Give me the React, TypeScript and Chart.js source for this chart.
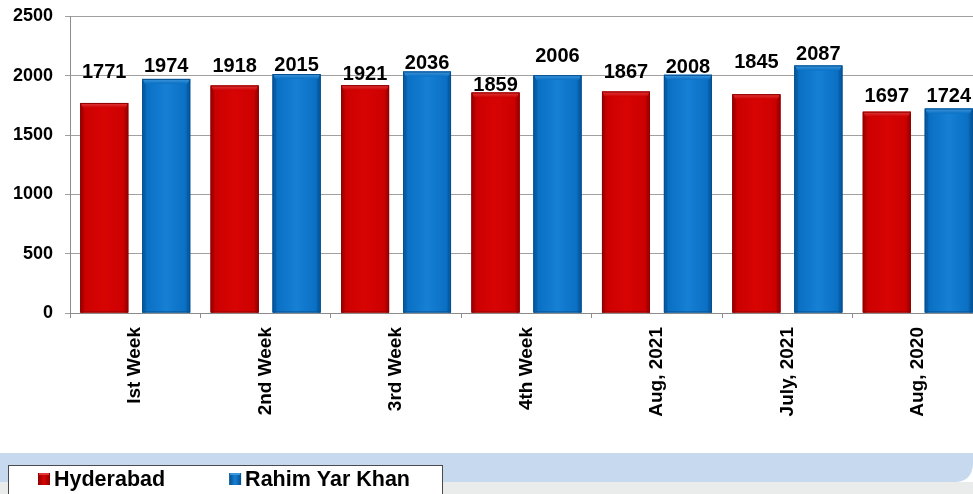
import React, { useEffect, useRef } from 'react';
import { Chart, registerables } from 'chart.js';

Chart.register(...registerables);

// ---- data ----
const categories = ['Ist Week', '2nd Week', '3rd Week', '4th Week', 'Aug, 2021', 'July, 2021', 'Aug, 2020'];
const hyderabad = [1771, 1918, 1921, 1859, 1867, 1845, 1697];
const rahimYarKhan = [1974, 2015, 2036, 2006, 2008, 2087, 1724];
const yTicks = [0, 500, 1000, 1500, 2000, 2500];
const seriesNames = ['Hyderabad', 'Rahim Yar Khan'];

// label lift above each bar (px), as placed in the original
const hyderabadLabelGap = [25, 14, 5, 2, 14, 26, 10];
const rahimLabelGap = [7, 3, 3, 13, 2, 5, 7];

const FONT = '"Liberation Sans", Arial, Helvetica, sans-serif';

const palettes = [
  { main: '#cc0000', light: '#d80404', edge: '#8e0000', top: '#e23a3a', side: '#a80000' },
  { main: '#0a70c4', light: '#1680d4', edge: '#064f8e', top: '#3f98dc', side: '#085ca6' },
];
const labelGaps = [hyderabadLabelGap, rahimLabelGap];

const barStylePlugin = {
  id: 'barStyle',
  afterDatasetsDraw(chart: any) {
    const ctx = chart.ctx as CanvasRenderingContext2D;
    ctx.save();
    chart.data.datasets.forEach((_ds: any, di: number) => {
      const meta = chart.getDatasetMeta(di);
      const pal = palettes[di];
      meta.data.forEach((el: any) => {
        const { x, y, width, base } = el.getProps(['x', 'y', 'width', 'base'], true);
        const l = x - width / 2;
        const r = x + width / 2;
        const t = y;
        const b = base;
        const g = ctx.createLinearGradient(l, 0, r, 0);
        g.addColorStop(0, pal.edge);
        g.addColorStop(0.1, pal.main);
        g.addColorStop(0.5, pal.light);
        g.addColorStop(0.9, pal.main);
        g.addColorStop(1, pal.edge);
        ctx.fillStyle = g;
        ctx.fillRect(l, t, width, b - t);
        const bv = 5;
        ctx.fillStyle = pal.side;
        ctx.beginPath();
        ctx.moveTo(l, t);
        ctx.lineTo(l + 3, t + bv);
        ctx.lineTo(l + 3, b);
        ctx.lineTo(l, b);
        ctx.closePath();
        ctx.fill();
        ctx.beginPath();
        ctx.moveTo(r, t);
        ctx.lineTo(r - 3, t + bv);
        ctx.lineTo(r - 3, b);
        ctx.lineTo(r, b);
        ctx.closePath();
        ctx.fill();
        const tg = ctx.createLinearGradient(0, t, 0, t + bv);
        tg.addColorStop(0, pal.top);
        tg.addColorStop(1, pal.main);
        ctx.fillStyle = tg;
        ctx.beginPath();
        ctx.moveTo(l, t);
        ctx.lineTo(r, t);
        ctx.lineTo(r - 3, t + bv);
        ctx.lineTo(l + 3, t + bv);
        ctx.closePath();
        ctx.fill();
        ctx.strokeStyle = pal.edge;
        ctx.lineWidth = 1;
        ctx.strokeRect(l + 0.5, t + 0.5, width - 1, b - t - 1);
      });
    });
    ctx.restore();
  },
};

const dataLabelPlugin = {
  id: 'dataLabels',
  afterDatasetsDraw(chart: any) {
    const ctx = chart.ctx as CanvasRenderingContext2D;
    ctx.save();
    ctx.font = `bold 20px ${FONT}`;
    ctx.fillStyle = '#000';
    ctx.textAlign = 'center';
    ctx.textBaseline = 'alphabetic';
    chart.data.datasets.forEach((ds: any, di: number) => {
      const meta = chart.getDatasetMeta(di);
      meta.data.forEach((el: any, i: number) => {
        const { x, y } = el.getProps(['x', 'y'], true);
        ctx.fillText(String(ds.data[i]), x, y - labelGaps[di][i]);
      });
    });
    ctx.restore();
  },
};

const legendPlugin = {
  id: 'customLegend',
  afterDraw(chart: any) {
    const ctx = chart.ctx as CanvasRenderingContext2D;
    const W = chart.width;
    ctx.save();
    ctx.fillStyle = '#eaecec';
    ctx.fillRect(0, 482, W, 20);
    ctx.fillStyle = '#c6d9ef';
    ctx.beginPath();
    ctx.moveTo(0, 453);
    ctx.lineTo(973, 453);
    ctx.lineTo(973, 464);
    ctx.quadraticCurveTo(972, 482, 954, 482);
    ctx.lineTo(0, 482);
    ctx.closePath();
    ctx.fill();
    ctx.fillStyle = '#ffffff';
    ctx.fillRect(8.5, 465.5, 434, 40);
    ctx.strokeStyle = '#4a4a4a';
    ctx.lineWidth = 1;
    ctx.strokeRect(8.5, 465.5, 434, 40);
    ctx.font = `bold 21.5px ${FONT}`;
    ctx.textBaseline = 'alphabetic';
    ctx.textAlign = 'left';
    let mx = 38;
    chart.data.datasets.forEach((ds: any, di: number) => {
      const pal = palettes[di];
      const g = ctx.createLinearGradient(mx, 0, mx + 12, 0);
      g.addColorStop(0, pal.edge);
      g.addColorStop(0.5, pal.light);
      g.addColorStop(1, pal.edge);
      ctx.fillStyle = g;
      ctx.fillRect(mx, 473, 12, 12);
      ctx.fillStyle = pal.top;
      ctx.fillRect(mx + 1, 473, 10, 2);
      ctx.fillStyle = '#000';
      const tx = mx + 16;
      ctx.fillText(ds.label, tx, 485.5);
      mx = tx + ctx.measureText(ds.label).width + 64;
    });
    ctx.restore();
  },
};

export default function App() {
  const ref = useRef<HTMLCanvasElement | null>(null);

  useEffect(() => {
    if (!ref.current) return;
    const chart = new Chart(ref.current, {
      type: 'bar',
      data: {
        labels: categories,
        datasets: [
          {
            label: seriesNames[0],
            data: hyderabad,
            backgroundColor: palettes[0].main,
            borderWidth: 0,
            categoryPercentage: 0.95,
            barPercentage: 0.774,
          },
          {
            label: seriesNames[1],
            data: rahimYarKhan,
            backgroundColor: palettes[1].main,
            borderWidth: 0,
            categoryPercentage: 0.95,
            barPercentage: 0.774,
          },
        ],
      },
      options: {
        animation: false,
        responsive: false,
        maintainAspectRatio: false,
        devicePixelRatio: 1,
        layout: { padding: { top: 16.5, left: 0, right: 0, bottom: 0 } },
        plugins: {
          legend: { display: false },
          tooltip: { enabled: false },
        },
        scales: {
          x: {
            grid: {
              display: true,
              drawOnChartArea: false,
              drawTicks: true,
              tickLength: 5,
              color: '#8c8c8c',
              offset: true,
            },
            border: { display: true, color: '#8c8c8c' },
            ticks: {
              autoSkip: false,
              maxRotation: 90,
              minRotation: 90,
              padding: 9,
              color: '#000',
              font: { family: FONT, size: 19, weight: 'bold' },
            },
            afterFit: (s: any) => {
              s.height = 181;
              s.paddingLeft = 0;
              s.paddingRight = 0;
            },
          },
          y: {
            min: 0,
            max: 2500,
            afterBuildTicks: (s: any) => {
              s.ticks = yTicks.map((v) => ({ value: v }));
            },
            grid: { color: '#a0a0a0', tickLength: 5, drawTicks: true },
            border: { display: true, color: '#8c8c8c' },
            ticks: {
              padding: 12,
              color: '#000',
              font: { family: FONT, size: 18, weight: 'bold' },
              callback: (v: any) => String(v),
            },
            afterFit: (s: any) => {
              s.width = 70;
              s.paddingTop = 0;
              s.paddingBottom = 0;
            },
          },
        },
      },
      plugins: [barStylePlugin, dataLabelPlugin, legendPlugin],
    } as any);
    return () => chart.destroy();
  }, []);

  return (
    <div
      style={{
        position: 'absolute',
        left: 0,
        top: 0,
        width: 973,
        height: 494,
        overflow: 'hidden',
        background: '#ffffff',
      }}
    >
      <canvas ref={ref} width={983} height={494} style={{ display: 'block' }} />
    </div>
  );
}
